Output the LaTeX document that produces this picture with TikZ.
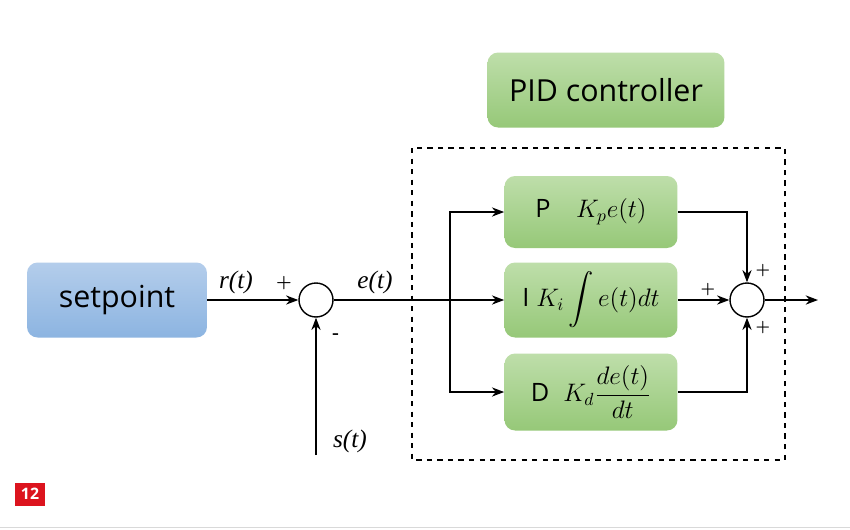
\documentclass[tikz,border=0pt]{standalone}
\usepackage{fontspec}
\setsansfont{Open Sans}
\newfontfamily\tnr{Liberation Serif}
\usepackage{amsmath}
\usetikzlibrary{arrows.meta}
\begin{document}
\begin{tikzpicture}[x=0.02cm,y=-0.02cm,
 grn/.style={draw=none,rounded corners=6pt,font=\sffamily\Large,top color={rgb,255:red,190;green,222;blue,170},bottom color={rgb,255:red,150;green,200;blue,120}},
 blu/.style={draw=none,rounded corners=6pt,font=\sffamily\LARGE,top color={rgb,255:red,180;green,205;blue,235},bottom color={rgb,255:red,140;green,180;blue,225}},
 sum/.style={circle,draw,thick,minimum size=0.68cm,inner sep=0},
 arr/.style={thick,-{Stealth[length=7pt]}},
 lab/.style={font=\tnr\itshape\Large}]
\useasboundingbox (0,0) rectangle (850,529);
\fill[white] (0,0) rectangle (850,529);
\draw[gray!30] (0,527) -- (850,527);
\node[blu,minimum width=3.6cm,minimum height=1.5cm] (sp) at (117,300) {setpoint};
\node[grn,minimum width=4.74cm,minimum height=1.5cm,font=\sffamily\LARGE] (pid) at (606,90) {PID controller};
\draw[thick,dashed] (412,148) rectangle (785,460);
\node[grn,minimum width=3.46cm,minimum height=1.44cm] (P) at (591,212) {P\quad$\large K_pe(t)$};
\node[grn,minimum width=3.46cm,minimum height=1.5cm] (I) at (591,300) {I\;$\large K_i\displaystyle\int e(t)dt$};
\node[grn,minimum width=3.46cm,minimum height=1.54cm] (D) at (591,392) {D\;\;$\large K_d\dfrac{de(t)}{dt}$};
\node[sum] (s1) at (316,300) {};
\node[sum] (s2) at (747,300) {};
\coordinate (st) at (316,455);
\coordinate (br) at (450,300);
\coordinate (out) at (818,300);
\draw[arr] (sp) -- (s1);
\draw[arr] (st) -- (s1);
\draw[thick] (s1) -- (br);
\draw[arr] (br) -- (I);
\draw[arr] (br) |- (P);
\draw[arr] (br) |- (D);
\draw[arr] (I) -- (s2);
\draw[arr] (P) -| (s2);
\draw[arr] (D) -| (s2);
\draw[arr] (s2) -- (out);
\node[lab] (r) at (236,282) {r(t)};
\node[lab] (e) at (375,282) {e(t)};
\node[lab] (s) at (350,441) {s(t)};
\node[font=\bfseries] (p1) at (284,283) {+};
\node[font=\bfseries] (m1) at (336,336) {-};
\node[font=\small\bfseries] (p2) at (708,290) {+};
\node[font=\small\bfseries] (p3) at (763,271) {+};
\node[font=\small\bfseries] (p4) at (763,328) {+};
\node[fill={rgb,255:red,220;green,20;blue,30},text=white,font=\sffamily\bfseries\small,minimum width=0.6cm,minimum height=0.46cm,inner sep=0] (n) at (30,494) {12};
\end{tikzpicture}
\end{document}
